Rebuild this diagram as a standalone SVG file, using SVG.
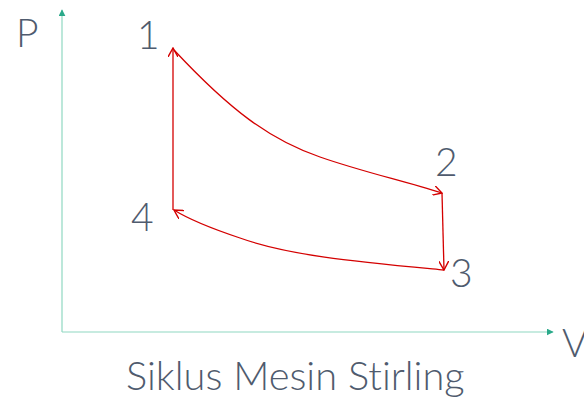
<svg xmlns="http://www.w3.org/2000/svg" width="584" height="401" viewBox="0 0 584 401">
<style>
.t{font-family:Lato,"Liberation Sans",sans-serif;font-weight:300;fill:#4f5b6e;font-size:39px;font-variant-ligatures:none}
.ax{stroke:#8fd8c2;stroke-width:1.2;fill:none}
.c{stroke:#d40000;stroke-width:1.3;fill:none}
</style>
<defs>
<marker id="ta" viewBox="0 0 10 10" refX="9" refY="5" markerWidth="7" markerHeight="7" orient="auto" markerUnits="userSpaceOnUse"><path d="M0,0 L10,5 L0,10 Z" fill="#2aa98a"/></marker>
<marker id="ra" viewBox="0 0 10 10" refX="9" refY="5" markerWidth="10" markerHeight="10" orient="auto" markerUnits="userSpaceOnUse"><path d="M0,0 L9,5 L0,10" fill="none" stroke="#d40000" stroke-width="1.4"/></marker>
</defs>
<rect width="584" height="401" fill="#fff"/>
<g id="axes">
<line class="ax" x1="62" y1="332" x2="62" y2="10" marker-end="url(#ta)"/>
<line class="ax" x1="62" y1="332" x2="553" y2="332" marker-end="url(#ta)"/>
</g>
<g id="connectors">
<path class="c" d="M174,50 C230,110 270,140 320,157 C360,171 400,180 442,193" marker-end="url(#ra)"/>
<path class="c" d="M442,193 L444,270" marker-end="url(#ra)"/>
<path class="c" d="M444,270 C360,262 290,256 240,238 C210,228 190,220 174,210" marker-end="url(#ra)"/>
<path class="c" d="M173,210 L173,48" marker-end="url(#ra)"/>
</g>
<g id="labels">
<text class="t" x="16" y="47">P</text>
<text class="t" x="562" y="357">V</text>
<text class="t" x="137" y="49">1</text>
<text class="t" x="435" y="176">2</text>
<text class="t" x="450" y="287">3</text>
<text class="t" x="131" y="231">4</text>
<text class="t" x="126" y="390" style="font-size:39.8px">Siklus Mesin Stirling</text>
</g>
</svg>
